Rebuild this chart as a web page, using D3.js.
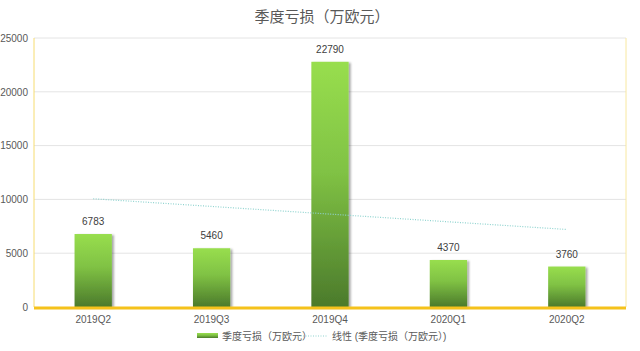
<!DOCTYPE html>
<html>
<head>
<meta charset="utf-8">
<script src="https://cdn.jsdelivr.net/npm/d3@7"></script>
<style>
  body { margin: 0; background: #fff; }
  text { font-family: "Liberation Sans", "Noto Sans CJK SC", sans-serif; }
</style>
</head>
<body>
<svg id="chart" width="640" height="351"></svg>
<script>
const quarters = ["2019Q2", "2019Q3", "2019Q4", "2020Q1", "2020Q2"];
const losses = [6783, 5460, 22790, 4370, 3760];
const yTicks = [0, 5000, 10000, 15000, 20000, 25000];
const seriesName = "季度亏损（万欧元）";
const trendName = "线性 (季度亏损（万欧元）)";

const svg = d3.select("#chart");
const margin = { left: 34, right: 14, top: 38, bottom: 44 };
const width = 640, height = 351;

const x = d3.scaleBand()
    .domain(quarters)
    .range([margin.left, width - margin.right])
    .paddingInner(0.685)
    .paddingOuter(0.3425);

const y = d3.scaleLinear()
    .domain([0, 25000])
    .range([height - margin.bottom, margin.top]);

// gradient + shadow
const defs = svg.append("defs");
const grad = defs.append("linearGradient")
    .attr("id", "barGrad")
    .attr("x1", 0).attr("y1", 0).attr("x2", 0).attr("y2", 1);
grad.append("stop").attr("offset", "0%").attr("stop-color", "#98de4e");
grad.append("stop").attr("offset", "45%").attr("stop-color", "#80c244");
grad.append("stop").attr("offset", "100%").attr("stop-color", "#4b7a2b");

const shadow = defs.append("filter").attr("id", "shadow")
    .attr("x", "-20%").attr("y", "-10%").attr("width", "160%").attr("height", "130%");
shadow.append("feDropShadow")
    .attr("dx", 2).attr("dy", 1).attr("stdDeviation", 1.2)
    .attr("flood-color", "#000").attr("flood-opacity", 0.35);

// title
svg.append("text")
    .attr("x", 322).attr("y", 22)
    .attr("text-anchor", "middle")
    .attr("font-size", 15)
    .attr("fill", "#595959")
    .text(seriesName);

// gridlines
svg.append("g")
    .selectAll("line")
    .data(yTicks.filter(d => d > 0))
    .join("line")
    .attr("x1", margin.left).attr("x2", width - margin.right)
    .attr("y1", d => y(d)).attr("y2", d => y(d))
    .attr("stroke", "#e4e4e4").attr("stroke-width", 1);

// y axis labels
const yAxis = svg.append("g")
    .attr("transform", `translate(${margin.left},0)`)
    .call(d3.axisLeft(y).tickValues(yTicks).tickSize(0).tickPadding(6).tickFormat(d3.format("d")));
yAxis.select(".domain").remove();
yAxis.selectAll("text").attr("font-size", 10).attr("fill", "#595959");

// frame lines
svg.append("line")
    .attr("x1", margin.left).attr("x2", margin.left)
    .attr("y1", margin.top).attr("y2", y(0))
    .attr("stroke", "#f6dc70").attr("stroke-width", 1);
svg.append("line")
    .attr("x1", width - margin.right).attr("x2", width - margin.right)
    .attr("y1", margin.top).attr("y2", y(0))
    .attr("stroke", "#f8e8a0").attr("stroke-width", 1);

// bars
svg.append("g")
    .selectAll("rect")
    .data(losses)
    .join("rect")
    .attr("x", (d, i) => x(quarters[i]))
    .attr("y", d => y(d))
    .attr("width", x.bandwidth())
    .attr("height", d => y(0) - y(d))
    .attr("fill", "url(#barGrad)")
    .attr("filter", "url(#shadow)");

// bottom axis line
svg.append("line")
    .attr("x1", margin.left).attr("x2", width - margin.right)
    .attr("y1", y(0) + 1).attr("y2", y(0) + 1)
    .attr("stroke", "#f5c21b").attr("stroke-width", 3);

// value labels
svg.append("g")
    .selectAll("text")
    .data(losses)
    .join("text")
    .attr("x", (d, i) => x(quarters[i]) + x.bandwidth() / 2)
    .attr("y", d => y(d) - 9)
    .attr("text-anchor", "middle")
    .attr("font-size", 10)
    .attr("fill", "#404040")
    .text(d => d);

// x labels
svg.append("g")
    .selectAll("text")
    .data(quarters)
    .join("text")
    .attr("x", d => x(d) + x.bandwidth() / 2)
    .attr("y", y(0) + 16)
    .attr("text-anchor", "middle")
    .attr("font-size", 10)
    .attr("fill", "#595959")
    .text(d => d);

// linear trend (least squares over the series)
const idx = losses.map((_, i) => i + 1);
const mx = d3.mean(idx), my = d3.mean(losses);
const slope = d3.sum(idx, (v, i) => (v - mx) * (losses[i] - my)) / d3.sum(idx, v => (v - mx) ** 2);
const trend = idx.map(v => my + slope * (v - mx));
svg.append("path")
    .datum(trend)
    .attr("d", d3.line()
        .x((d, i) => x(quarters[i]) + x.bandwidth() / 2)
        .y(d => y(d)))
    .attr("fill", "none")
    .attr("stroke", "#8fd3cf")
    .attr("stroke-width", 1.2)
    .attr("stroke-dasharray", "1,1.5");

// legend
const lg = svg.append("g").attr("transform", "translate(0,336)");
lg.append("rect")
    .attr("x", 197).attr("y", -3).attr("width", 21).attr("height", 5)
    .attr("fill", "url(#barGrad)");
lg.append("text")
    .attr("x", 222).attr("y", 4)
    .attr("font-size", 10).attr("fill", "#595959")
    .text(seriesName);
lg.append("line")
    .attr("x1", 298).attr("x2", 328).attr("y1", 0).attr("y2", 0)
    .attr("stroke", "#8fd3cf").attr("stroke-width", 1.2)
    .attr("stroke-dasharray", "1,1.5");
lg.append("text")
    .attr("x", 332).attr("y", 4)
    .attr("font-size", 10).attr("fill", "#595959")
    .text(trendName);
</script>
</body>
</html>
